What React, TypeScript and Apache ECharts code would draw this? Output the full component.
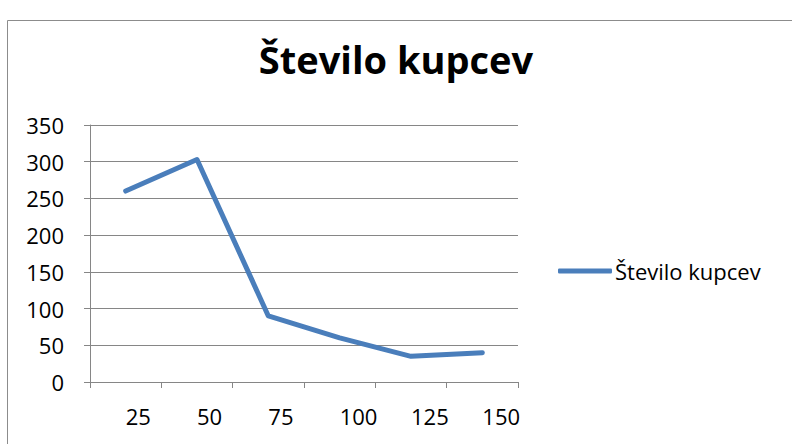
import React, { useEffect, useRef } from "react";
import * as echarts from "echarts";

const categories = ["25", "50", "75", "100", "125", "150"];
const seriesName = "Število kupcev";
const values = [260, 303, 90, 60, 35, 40];
const yTicks = { min: 0, max: 350, interval: 50 };

export default function App() {
  const ref = useRef<HTMLDivElement>(null);
  useEffect(() => {
    const chart = echarts.init(ref.current!, null, { renderer: "svg" });
    const font = "Open Sans";
    chart.setOption({
      animation: false,
      backgroundColor: "#ffffff",
      title: {
        text: seriesName,
        left: "center",
        top: 40,
        padding: [0, 0, 0, 14],
        textStyle: { fontFamily: font, fontWeight: "bold", fontSize: 38, color: "#000" },
      },
      graphic: [
        {
          type: "rect",
          shape: { x: 7.5, y: 20.5, width: 900, height: 600 },
          style: { fill: "none", stroke: "#8c8c8c", lineWidth: 1 },
          silent: true,
        },
      ],
      legend: {
        left: 553,
        top: 255,
        itemWidth: 54,
        itemHeight: 5,
        itemGap: 10,
        icon: "roundRect",
        textStyle: { fontFamily: font, fontSize: 22, color: "#000", padding: [0, 0, 0, -2] },
        data: [seriesName],
      },
      grid: { left: 90, right: 274, top: 125, bottom: 62 },
      xAxis: {
        type: "category",
        data: categories,
        boundaryGap: true,
        axisLine: { lineStyle: { color: "#868686", width: 1 } },
        axisTick: { show: true, length: 6, lineStyle: { color: "#868686" } },
        axisLabel: { align: "left", margin: 23, fontFamily: font, fontSize: 22, color: "#000" },
      },
      yAxis: {
        type: "value",
        min: yTicks.min,
        max: yTicks.max,
        interval: yTicks.interval,
        axisLine: { show: true, lineStyle: { color: "#868686", width: 1 } },
        axisTick: { show: true, length: 6, lineStyle: { color: "#868686" } },
        splitLine: { lineStyle: { color: "#868686", width: 1 } },
        axisLabel: { margin: 26, fontFamily: font, fontSize: 22, color: "#000" },
      },
      series: [
        {
          name: seriesName,
          type: "line",
          data: values,
          showSymbol: false,
          symbol: "none",
          color: "#4a7ebb",
          lineStyle: { color: "#4a7ebb", width: 5, join: "round", cap: "round" },
        },
      ],
    });
    return () => chart.dispose();
  }, []);
  return (
    <div
      ref={ref}
      style={{ position: "fixed", left: 0, top: 0, width: 792, height: 444 }}
    />
  );
}
